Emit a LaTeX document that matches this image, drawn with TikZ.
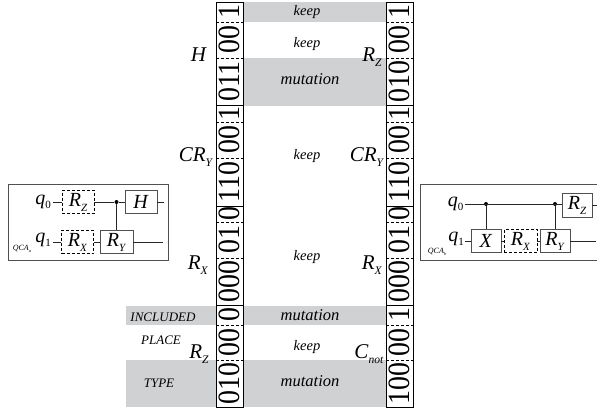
\documentclass[tikz,border=0pt]{standalone}
\usepackage{fontspec}
\setmainfont{Liberation Serif}
\definecolor{band}{RGB}{208,209,211}
\definecolor{boxc}{RGB}{80,80,80}
\newcommand{\sbs}[2]{\textit{#1}\raisebox{-0.25em}{\scalebox{0.55}{\textit{#2}}}}
\newcommand{\qub}[2]{\textit{#1}\raisebox{-0.2em}{\scalebox{0.55}{#2}}}
\tikzset{x=1pt,y=-1pt,
 txt/.style={inner sep=0pt,font=\itshape\fontsize{#1}{#1}\selectfont},
 txt/.default=11,
 gate/.style={draw=boxc,line width=.8pt,fill=white,minimum width=#1,minimum height=23.5pt,inner sep=0pt,font=\fontsize{20}{20}\selectfont},
 gate/.default=31pt,
 dgate/.style={gate=#1,draw=black,densely dashed,line width=.6pt},
 dgate/.default=32pt,
 wire/.style={line width=.7pt,draw=black!85},
 dot/.style={circle,fill=black,inner sep=0pt,minimum size=4pt},
 frame/.style={draw=boxc,line width=.7pt},
 strip/.style={draw=black,line width=.8pt},
 sep/.style={densely dashed,line width=.5pt},
 dig/.style={rotate=90,inner sep=0pt,font=\fontsize{31}{31}\selectfont},
 big/.style={inner sep=0pt,font=\fontsize{21}{21}\selectfont},
 qlab/.style={inner sep=0pt,font=\fontsize{20}{20}\selectfont},
 qca/.style={inner sep=0pt,font=\fontsize{8}{8}\selectfont}}
\begin{document}
\begin{tikzpicture}
\useasboundingbox (0,0) rectangle (597,411);
% bands
\fill[band] (244,2) rectangle (386,22);
\fill[band] (244,58) rectangle (386,106);
\fill[band] (244,306) rectangle (386,325);
\fill[band] (244,360) rectangle (386,407);
\fill[band] (126,306) rectangle (216,325);
\fill[band] (126,360) rectangle (216,407);
% strips
\foreach \xa in {216,386}{
 \draw[strip] (\xa,2) rectangle (\xa+27,407);
 \foreach \yy in {105,206,305} \draw[strip] (\xa,\yy) -- (\xa+27,\yy);
 \foreach \yy in {22,58,122,158,222,258,325,360} \draw[sep] (\xa,\yy) -- (\xa+27,\yy);
}
\foreach \xc/\s/\ya/\yb in {
 229.5/1/2/22, 229.5/00/22/58, 229.5/011/58/105,
 229.5/1/105/122, 229.5/00/122/158, 229.5/110/158/206,
 229.5/0/206/222, 229.5/01/222/258, 229.5/000/258/305,
 229.5/0/305/325, 229.5/00/325/360, 229.5/010/360/407,
 399.5/1/2/22, 399.5/00/22/58, 399.5/010/58/105,
 399.5/1/105/122, 399.5/00/122/158, 399.5/110/158/206,
 399.5/0/206/222, 399.5/01/222/258, 399.5/000/258/305,
 399.5/1/305/325, 399.5/00/325/360, 399.5/100/360/407}
 \node[dig] at (\xc,{(\ya+\yb)/2}) {\scalebox{0.9}[1]{\s}};
% labels
\node[txt=14.5] at (307,12) {keep};
\node[txt=14.5] at (307,44) {keep};
\node[txt=16.5] at (310,79) {mutation};
\node[txt=14.5] at (307,156) {keep};
\node[txt=14.5] at (307,257) {keep};
\node[txt=16.5] at (310,315) {mutation};
\node[txt=14.5] at (307,347) {keep};
\node[txt=16.5] at (310,381) {mutation};
\node[txt=13] at (163,317) {INCLUDED};
\node[txt=13] at (161,340) {PLACE};
\node[txt=13] at (159,383) {TYPE};
\node[big] at (199,55) {\textit{H}};
\node[big] at (372,57) {\sbs{R}{Z}};
\node[big] at (196,157) {\sbs{CR}{Y}};
\node[big] at (367,157) {\sbs{CR}{Y}};
\node[big] at (198,265) {\sbs{R}{X}};
\node[big] at (372,265) {\sbs{R}{X}};
\node[big] at (199,354) {\sbs{R}{Z}};
\node[big] at (369,354) {\sbs{C}{not}};
% left circuit
\draw[frame] (8,184) rectangle (168,260);
\node[qlab] (q0) at (43,202) {\qub{q}{0}};
\node[qlab] (q1) at (43,240) {\qub{q}{1}};
\node[qca] (qa) at (22,249) {\sbs{QCA}{a}};
\node[dgate] (a1) at (78,202) {\sbs{R}{Z}};
\node[dgate] (a2) at (77.5,242) {\sbs{R}{X}};
\node[gate=33pt] (a3) at (116.5,242) {\sbs{R}{Y}};
\node[gate=32pt] (a4) at (141,202) {\textit{H}};
\node[dot] (ad) at (116.5,202) {};
\coordinate (as0) at (53,202);
\coordinate (as1) at (53,242);
\coordinate (ae0) at (164,202);
\coordinate (ae1) at (163,242);
\draw[wire] (as0) -- (a1);
\draw[wire] (as1) -- (a2);
\draw[wire] (a1) -- (ad) -- (a4);
\draw[wire] (a2) -- (a3);
\draw[wire] (ad) -- (a3);
\draw[wire] (a4) -- (ae0);
\draw[wire] (a3) -- (ae1);
% right circuit
\draw[frame] (597,184) -- (420,184) -- (420,260) -- (597,260);
\node[qlab] (q2) at (455.5,204) {\qub{q}{0}};
\node[qlab] (q3) at (456,239) {\qub{q}{1}};
\node[qca] (qb) at (437,252) {\sbs{QCA}{b}};
\node[gate=30pt] (b1) at (486,241) {\textit{X}};
\node[dgate=33pt] (b2) at (520.5,241) {\sbs{R}{X}};
\node[gate=30pt] (b3) at (555,241) {\sbs{R}{Y}};
\node[gate=30pt] (b4) at (577,205.5) {\sbs{R}{Z}};
\node[dot] (bd1) at (486,204) {};
\node[dot] (bd2) at (555,204) {};
\coordinate (bs0) at (465,204);
\coordinate (bs1) at (465,241);
\coordinate (bm) at (562,204);
\coordinate (be0) at (597,205.5);
\coordinate (be1) at (596,241);
\draw[wire] (bs0) -- (bm);
\draw[wire] (bs1) -- (b1);
\draw[wire] (b1) -- (b2) (b2) -- (b3);
\draw[wire] (bd1) -- (b1);
\draw[wire] (bd2) -- (b3);
\draw[wire] (b4) -- (be0);
\draw[wire] (b3) -- (be1);
\end{tikzpicture}
\end{document}
